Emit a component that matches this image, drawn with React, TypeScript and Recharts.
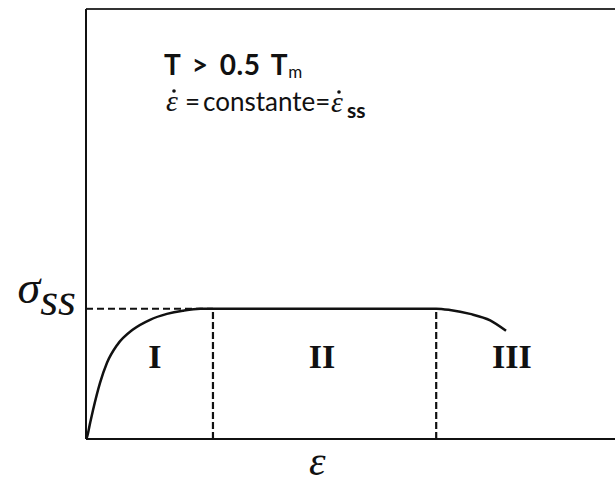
import { Line, LineChart, ReferenceDot, ReferenceLine, XAxis, YAxis } from "recharts";

// creep curve: strain (arbitrary units) vs stress normalised to the steady-state value
const strain = [0, 0.19, 0.76, 1.32, 2.65, 3.97, 5.86, 8.88, 12.1, 15.3, 18.3, 21.6, 24.0, 45.0, 66.2, 68.8, 72.6, 76.4, 79.4];
const stress = [0, 0.015, 0.12, 0.22, 0.43, 0.585, 0.72, 0.84, 0.915, 0.96, 0.985, 1.0, 1.0, 1.0, 1.0, 0.99, 0.96, 0.91, 0.83];

const steadyStress = 1.0;
const stageEnds = [24.0, 66.2];
const stageNames = ["I", "II", "III"];
const stageLabelX = [13.0, 44.6, 80.5];
const stageLabelY = 0.545;
const strainLabelX = 43.7;

const xMax = 100;
const yMax = 3.3;

const data = strain.map((s, i) => ({ strain: s, stress: stress[i] }));

const serif = "'Liberation Serif', 'Times New Roman', serif";
const sans = "Lato, 'Liberation Sans', sans-serif";

function SigmaTick(props: any) {
  const { x, y } = props;
  return (
    <text x={x} y={y - 6} textAnchor="end" fontFamily={serif} fontStyle="italic" fontSize={46} fill="#111">
      <tspan>σ</tspan>
      <tspan dy={12}>ss</tspan>
    </text>
  );
}

function stageText(name: string) {
  return (p: any) => (
    <text x={p.cx} y={p.cy} textAnchor="middle" fontFamily={serif} fontWeight="bold" fontSize={34} fill="#111">
      {name}
    </text>
  );
}

function StrainText(p: any) {
  return (
    <text x={p.cx} y={p.cy + 36} textAnchor="middle" fontFamily={serif} fontStyle="italic" fontSize={42} fill="#111">
      ε
    </text>
  );
}

// strain rate symbol: italic epsilon with a dot above
function EpsDot({ x, y }: { x: number; y: number }) {
  return (
    <g>
      <text x={x} y={y} fontFamily={serif} fontStyle="italic" fontSize={30} fill="#111">
        ε
      </text>
      <circle cx={x + 8} cy={y - 20} r={1.8} fill="#111" />
    </g>
  );
}

export default function App() {
  return (
    <div style={{ position: "absolute", left: 0, top: 0, width: 615, height: 484, background: "#fff" }}>
      <LineChart width={615} height={484} data={data} margin={{ top: 9, right: 0, left: 0, bottom: 0 }}>
        <XAxis
          type="number"
          dataKey="strain"
          domain={[0, xMax]}
          tick={false}
          tickLine={false}
          height={45}
          axisLine={{ stroke: "#111", strokeWidth: 2 }}
        />
        <YAxis
          type="number"
          domain={[0, yMax]}
          ticks={[steadyStress]}
          tick={SigmaTick}
          tickLine={false}
          tickSize={0}
          tickMargin={10}
          width={86}
          axisLine={{ stroke: "#111", strokeWidth: 2 }}
        />
        <ReferenceLine y={yMax} stroke="#333" strokeWidth={2} ifOverflow="visible" />
        <ReferenceLine
          segment={[{ x: 0, y: steadyStress }, { x: stageEnds[0], y: steadyStress }]}
          stroke="#111"
          strokeWidth={2}
          strokeDasharray="7 4"
        />
        {stageEnds.map((x) => (
          <ReferenceLine
            key={x}
            segment={[{ x, y: 0 }, { x, y: steadyStress }]}
            stroke="#111"
            strokeWidth={2.2}
            strokeDasharray="7 3"
          />
        ))}
        <Line
          type="monotone"
          dataKey="stress"
          stroke="#111"
          strokeWidth={2.5}
          dot={false}
          isAnimationActive={false}
        />
        {stageNames.map((name, i) => (
          <ReferenceDot key={name} x={stageLabelX[i]} y={stageLabelY} r={0} shape={stageText(name)} ifOverflow="visible" />
        ))}
        <ReferenceDot x={strainLabelX} y={0} r={0} shape={StrainText} ifOverflow="visible" />
      </LineChart>
      <svg width={615} height={484} style={{ position: "absolute", left: 0, top: 0, pointerEvents: "none" }}>
        <text x={164} y={75} fontFamily={sans} fontWeight="bold" fontSize={28} letterSpacing={0.5} wordSpacing={4} fill="#111">
          T &gt; 0.5 T
          <tspan fontSize={17} fontWeight="normal" letterSpacing={0} dy={3}>
            m
          </tspan>
        </text>
        <EpsDot x={166} y={111} />
        <text x={185} y={111} fontFamily={sans} fontSize={26} fill="#111">
          =
        </text>
        <text x={203} y={111} fontFamily={sans} fontSize={26} fill="#111">
          constante=
        </text>
        <EpsDot x={331} y={112} />
        <text x={347} y={118} fontFamily={sans} fontWeight="bold" fontSize={21} fill="#111">
          ss
        </text>
      </svg>
    </div>
  );
}
